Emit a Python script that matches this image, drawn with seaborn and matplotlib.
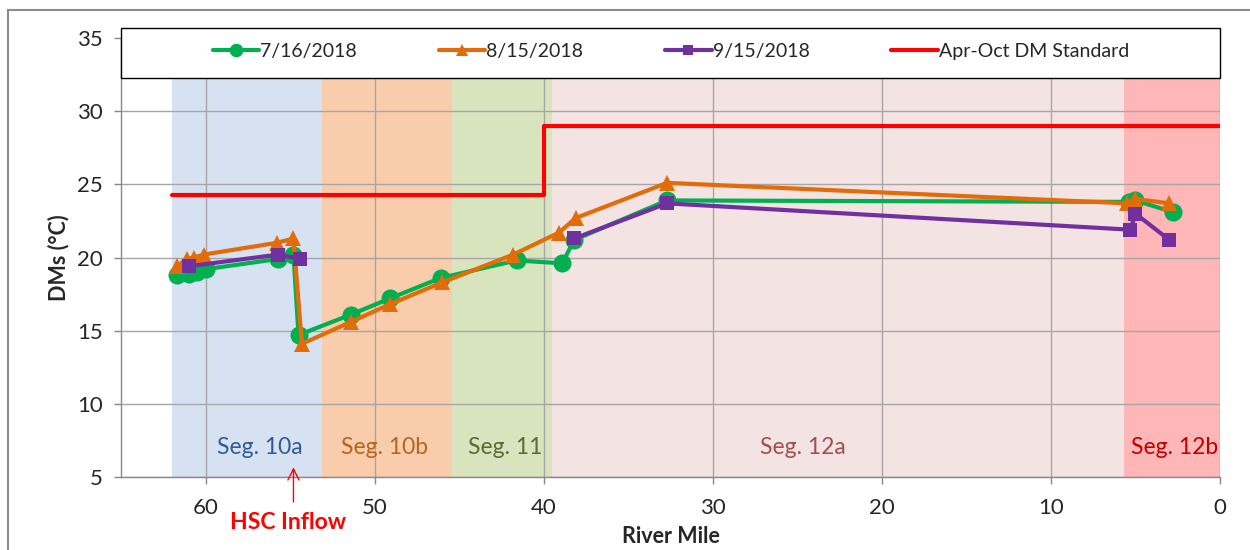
import matplotlib.pyplot as plt
import seaborn as sns
import pandas as pd
from matplotlib.patches import Rectangle

# data
miles_0716 = [61.7, 61.0, 60.5, 60.0, 55.7, 54.8, 54.5, 51.4, 49.1, 46.1, 41.6, 38.9, 38.2, 32.7, 5.4, 5.0, 2.8]
dms_0716 = [18.8, 18.9, 19.0, 19.2, 19.9, 20.2, 14.7, 16.1, 17.2, 18.6, 19.8, 19.6, 21.2, 23.9, 23.8, 23.9, 23.1]

miles_0815 = [61.7, 61.1, 60.7, 60.1, 55.8, 54.8, 54.3, 51.4, 49.1, 46.0, 41.8, 39.1, 38.1, 32.7, 5.5, 5.0, 3.0]
dms_0815 = [19.4, 19.9, 20.0, 20.2, 21.0, 21.3, 14.1, 15.6, 16.8, 18.3, 20.2, 21.7, 22.7, 25.1, 23.7, 24.0, 23.7]

# the 9/15 survey has a gap between mile 54 and 38
miles_0915 = [61.0, 55.7, 54.4, 38.2, 32.7, 5.3, 5.0, 3.0]
dms_0915 = [19.4, 20.2, 19.9, 21.3, 23.7, 21.9, 23.0, 21.2]
run_0915 = [1, 1, 1, 2, 2, 2, 2, 2]

std_miles = [62.0, 40.0, 40.0, 0.0]
std_dms = [24.3, 24.3, 29.0, 29.0]

seg_names = ["Seg. 10a", "Seg. 10b", "Seg. 11", "Seg. 12a", "Seg. 12b"]
seg_start = [62.0, 53.1, 45.4, 39.5, 5.7]
seg_end = [53.1, 45.4, 39.5, 5.7, -0.2]
seg_label_x = [56.8, 49.4, 42.3, 24.7, 2.7]
seg_fill = ["#D6E1F1", "#F9CDAB", "#D8E4BD", "#F3E3E3", "#FEB6B6"]
seg_text = ["#2E5D95", "#B5651D", "#5B6B33", "#A0504F", "#C00000"]

sns.set_style("white")
plt.rcParams["font.family"] = ["Lato", "DejaVu Sans"]

fig = plt.figure(figsize=(12.5, 5.5), dpi=100)
ax = fig.add_axes([121 / 1250, 1 - 477 / 550, 1099 / 1250, 439 / 550])

# segment bands
for s, e, c in zip(seg_start, seg_end, seg_fill):
    ax.axvspan(s, e, color=c, lw=0, zorder=0.2)
for name, x, c in zip(seg_names, seg_label_x, seg_text):
    ax.text(x, 7.05, name, color=c, fontsize=16.5, ha="center", va="center", zorder=3)

series = [
    ("7/16/2018", miles_0716, dms_0716, [1] * len(miles_0716), "#00B050", "o", 13),
    ("8/15/2018", miles_0815, dms_0815, [1] * len(miles_0815), "#E36C0A", "^", 11),
    ("9/15/2018", miles_0915, dms_0915, run_0915, "#7030A0", "s", 9.5),
]
for label, m, v, run, col, mk, ms in series:
    df = pd.DataFrame({"mile": m, "dm": v, "run": run})
    sns.lineplot(data=df, x="mile", y="dm", units="run", ax=ax, color=col, marker=mk,
                 markersize=ms, markeredgewidth=0, lw=3, sort=False, estimator=None,
                 label=label, zorder=4)

std = pd.DataFrame({"mile": std_miles, "dm": std_dms})
sns.lineplot(data=std, x="mile", y="dm", ax=ax, color="#FF0000", lw=3, sort=False,
             estimator=None, label="Apr-Oct DM Standard", zorder=3)

handles, labels = ax.get_legend_handles_labels()
ax.get_legend().remove()
uniq = {}
for h, l in zip(handles, labels):
    uniq.setdefault(l, h)

ax.set_xlim(65, 0)
ax.set_ylim(5, 35)
ax.set_xticks([60, 50, 40, 30, 20, 10, 0])
ax.set_yticks([5, 10, 15, 20, 25, 30, 35])
ax.tick_params(axis="both", labelsize=16, colors="#262626", length=5, width=1,
               direction="out", bottom=True, left=True, color="#888888")
ax.tick_params(axis="x", pad=10)
ax.tick_params(axis="y", pad=8)
ax.set_axisbelow(True)
ax.grid(True, color="#A6A6A6", lw=1)
for side in ["top", "right"]:
    ax.spines[side].set_visible(False)
for side in ["left", "bottom"]:
    ax.spines[side].set_color("#888888")
    ax.spines[side].set_linewidth(1)

ax.set_xlabel("River Mile", fontsize=15.5, fontweight="bold", labelpad=6)
ax.set_ylabel("DMs (°C)", fontsize=15.5, fontweight="bold", labelpad=6)

# HSC inflow annotation
ax.annotate("", xy=(54.8, 5.85), xytext=(54.8, 3.1), xycoords="data",
            arrowprops=dict(arrowstyle="->", color="red", lw=1, mutation_scale=20),
            annotation_clip=False)
ax.text(55.1, 1.9, "HSC Inflow", color="red", fontsize=16.5, fontweight="bold",
        ha="center", va="center", clip_on=False)

# legend box across the top of the plot
fig.add_artist(Rectangle((121 / 1250, 1 - 78 / 550), 1099 / 1250, 50 / 550,
                         transform=fig.transFigure, facecolor="white",
                         edgecolor="black", lw=1, zorder=4))
fig.legend(list(uniq.values()), list(uniq.keys()), loc="center left",
           bbox_to_anchor=(203 / 1250, 1 - 51 / 550),
           ncol=4, frameon=False, fontsize=14, handlelength=2.4, handletextpad=0.05,
           columnspacing=4.2, borderpad=0, markerscale=0.75)

# outer chart border
fig.add_artist(Rectangle((8 / 1250, -0.1), 1.2, 1 - 10 / 550 + 0.1, transform=fig.transFigure,
                         fill=False, edgecolor="#8C8C8C", lw=1.5, zorder=5))

fig.savefig("out.png", dpi=100)
